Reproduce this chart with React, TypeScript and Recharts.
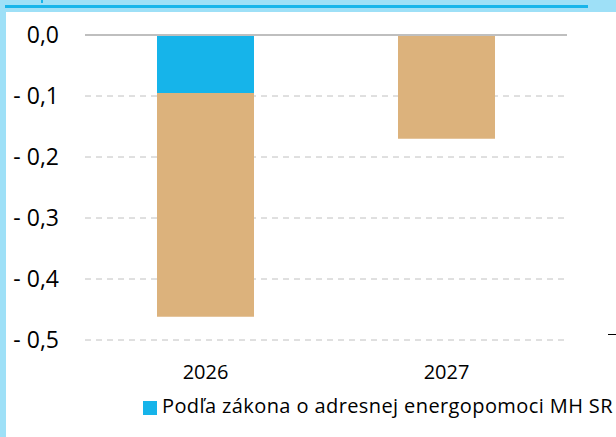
import { Bar, BarChart, CartesianGrid, ReferenceLine, XAxis, YAxis } from 'recharts'

const years = ['2026', '2027']
const energopomoc = [-0.095, 0]
const ostatne = [-0.367, -0.17]
const yTicks = [0, -0.1, -0.2, -0.3, -0.4, -0.5]

const data = years.map((year, i) => ({ year, energopomoc: energopomoc[i], ostatne: ostatne[i] }))

function formatTick(value: number) {
    if (value === 0) return '0,0'
    return '- ' + Math.abs(value).toFixed(1).replace('.', ',')
}

const font = '"Open Sans", sans-serif'

export default function App() {
    return (
        <div style={{ position: 'absolute', left: 0, top: 0, width: 616, height: 437, background: '#9ee0f7', overflow: 'hidden', fontFamily: font }}>
            <div style={{ position: 'absolute', left: 5, top: 5, width: 583, height: 3, background: '#17b5ea' }} />
            <div style={{ position: 'absolute', left: 41, top: 0, width: 2, height: 3, background: '#17b5ea' }} />
            <div style={{ position: 'absolute', left: 6, top: 12, width: 610, height: 425, background: '#ffffff' }} />
            <div style={{ position: 'absolute', left: 0, top: 0 }}>
                <BarChart width={616} height={437} data={data} margin={{ top: 35, right: 49, left: 0, bottom: 67 }}>
                    <CartesianGrid vertical={false} stroke="#c0c0c0" strokeDasharray="6 5" />
                    <XAxis
                        dataKey="year"
                        axisLine={false}
                        tickLine={false}
                        height={30}
                        tickMargin={19}
                        tick={{ fill: '#000', fontSize: 20, fontFamily: font }}
                    />
                    <YAxis
                        width={85}
                        domain={[-0.5, 0]}
                        ticks={yTicks}
                        axisLine={false}
                        tickLine={false}
                        tickMargin={20}
                        tickFormatter={formatTick}
                        tick={{ fill: '#000', fontSize: 23, fontFamily: font }}
                    />
                    <ReferenceLine y={0} stroke="#bfbfbf" strokeWidth={2} />
                    <Bar dataKey="energopomoc" stackId="a" fill="#16b4ea" barSize={97} isAnimationActive={false} />
                    <Bar dataKey="ostatne" stackId="a" fill="#dcb27c" barSize={97} isAnimationActive={false} />
                </BarChart>
            </div>
            <div style={{ position: 'absolute', left: 143, top: 401, width: 14, height: 14, background: '#16b4ea' }} />
            <div style={{ position: 'absolute', left: 162, top: 393, fontSize: 20, letterSpacing: '0.4px', lineHeight: '26px', color: '#000', whiteSpace: 'nowrap' }}>
                Podľa zákona o adresnej energopomoci MH SR
            </div>
            <div style={{ position: 'absolute', left: 608, top: 334, width: 8, height: 1, background: '#000' }} />
        </div>
    )
}
